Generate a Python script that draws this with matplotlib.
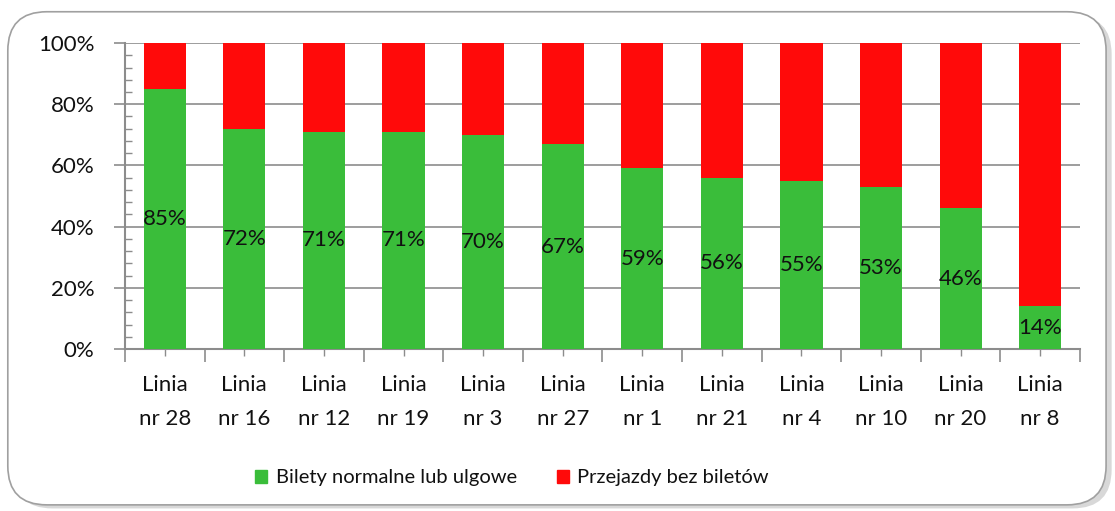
import matplotlib
matplotlib.use("Agg")
import matplotlib.pyplot as plt
from matplotlib.patches import FancyBboxPatch
from matplotlib.ticker import MultipleLocator, FixedLocator, NullFormatter, FuncFormatter

categories = ["Linia\nnr 28", "Linia\nnr 16", "Linia\nnr 12", "Linia\nnr 19", "Linia\nnr 3", "Linia\nnr 27",
              "Linia\nnr 1", "Linia\nnr 21", "Linia\nnr 4", "Linia\nnr 10", "Linia\nnr 20", "Linia\nnr 8"]
tickets = [85, 72, 71, 71, 70, 67, 59, 56, 55, 53, 46, 14]
no_tickets = [100 - v for v in tickets]
series_names = ["Bilety normalne lub ulgowe", "Przejazdy bez biletów"]

GREEN = "#3abd3a"
RED = "#ff0a0a"
plt.rcParams['font.family'] = ['Lato', 'DejaVu Sans']
FS = 16

fig = plt.figure(figsize=(11.15, 5.11), dpi=100)

# rounded frame with shadow
shadow = FancyBboxPatch((0.012, 0.005), 0.985, 0.965, boxstyle="round,pad=0,rounding_size=0.035",
                        transform=fig.transFigure, facecolor="#d8d8d8", edgecolor="none", zorder=0,
                        mutation_aspect=1115/511)
frame = FancyBboxPatch((0.007, 0.012), 0.985, 0.965, boxstyle="round,pad=0,rounding_size=0.035",
                       transform=fig.transFigure, facecolor="white", edgecolor="#a0a0a0", linewidth=1.2,
                       zorder=1, mutation_aspect=1115/511)
fig.patches.extend([shadow, frame])

ax = fig.add_axes([0.1121, 0.317, 0.8565, 0.5988])
ax.set_facecolor("none")
ax.set_zorder(2)
x = list(range(len(categories)))
ax.bar(x, tickets, width=0.53, color=GREEN, zorder=3)
ax.bar(x, no_tickets, bottom=tickets, width=0.53, color=RED, zorder=3)
for xi, v in zip(x, tickets):
    ax.text(xi, v / 2, f"{v}%", ha="center", va="center", fontsize=FS, color="#111111", zorder=4)

ax.set_xlim(-0.5, len(categories) - 0.5)
ax.set_ylim(0, 100)
ax.yaxis.set_major_locator(MultipleLocator(20))
ax.yaxis.set_minor_locator(MultipleLocator(4))
ax.yaxis.set_major_formatter(FuncFormatter(lambda v, p: f"{int(v)}%"))
ax.grid(axis="y", which="major", color="#8c8c8c", linewidth=1.2, zorder=1)
ax.set_axisbelow(True)

ax.xaxis.set_major_locator(FixedLocator([i - 0.5 for i in range(len(categories) + 1)]))
ax.xaxis.set_major_formatter(NullFormatter())
ax.xaxis.set_minor_locator(FixedLocator(x))
ax.set_xticks(x, categories, minor=True)

for s in ["top", "right"]:
    ax.spines[s].set_visible(False)
for s in ["left", "bottom"]:
    ax.spines[s].set_color("#8c8c8c")
    ax.spines[s].set_linewidth(1.5)

ax.tick_params(axis="y", which="major", length=8, width=1.2, color="#8c8c8c", labelsize=FS,
               labelcolor="#111111", pad=14)
ax.tick_params(axis="y", which="minor", length=5, width=1.0, color="#8c8c8c", direction="in")
ax.tick_params(axis="x", which="major", length=9, width=1.2, color="#8c8c8c")
ax.tick_params(axis="x", which="minor", length=5, width=1.0, color="#8c8c8c", labelsize=FS,
               labelcolor="#111111", pad=14)
for lbl in ax.get_xticklabels(minor=True):
    lbl.set_linespacing(1.85)

handles = [plt.Rectangle((0, 0), 1, 1, color=GREEN), plt.Rectangle((0, 0), 1, 1, color=RED)]
fig.legend(handles, series_names, loc="center", bbox_to_anchor=(512 / 1115, 1 - 478 / 511), ncol=2,
           frameon=False, fontsize=14.5, handlelength=0.6, handleheight=0.6, handletextpad=0.4,
           columnspacing=2.0, labelcolor="#111111")

fig.savefig("out.png", dpi=100)
